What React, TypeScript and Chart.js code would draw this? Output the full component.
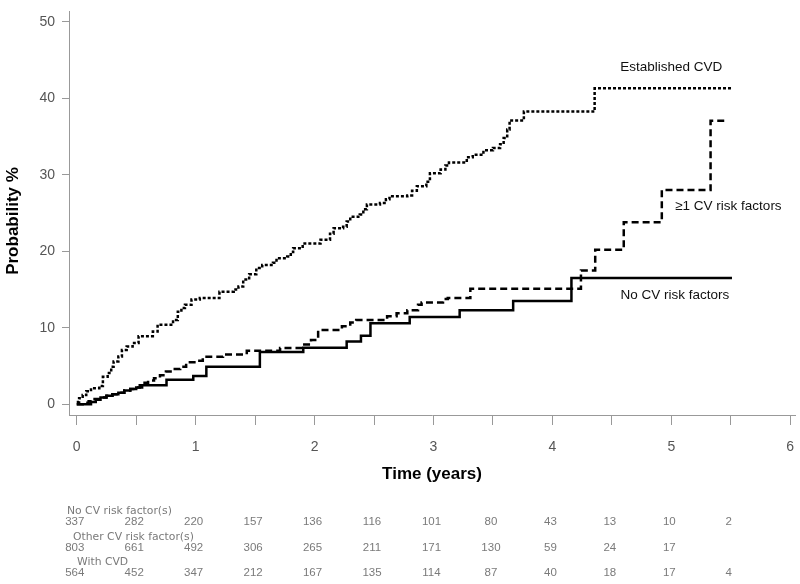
import React, { useEffect, useRef } from "react";
import { Chart, registerables } from "chart.js";

Chart.register(...registerables);

// Established CVD (dotted)
const cvdTime = [
  0, 0.02, 0.05, 0.08, 0.12, 0.19, 0.22, 0.26, 0.29, 0.31,
  0.35, 0.38, 0.42, 0.47, 0.52, 0.64, 0.68, 0.81, 0.85, 0.88,
  0.91, 0.965, 1.035, 1.2, 1.32, 1.36, 1.4, 1.45, 1.51, 1.56,
  1.65, 1.68, 1.77, 1.8, 1.82, 1.9, 2.05, 2.13, 2.16, 2.24,
  2.27, 2.3, 2.38, 2.41, 2.44, 2.55, 2.6, 2.63, 2.78, 2.82,
  2.86, 2.94, 2.97, 3.06, 3.1, 3.13, 3.28, 3.33, 3.42, 3.5,
  3.56, 3.59, 3.62, 3.64, 3.76, 4.355, 5.51,
];
const cvdProb = [
  0.3, 0.8, 1.2, 1.7, 2.1, 2.4, 3.6, 4.1, 4.9, 5.6,
  6.25, 7.1, 7.55, 8.0, 8.9, 9.5, 10.4, 11.0, 12.1, 12.6,
  13.0, 13.7, 13.9, 14.7, 15.0, 15.4, 16.3, 17.0, 17.8, 18.2,
  18.5, 19.1, 19.3, 19.9, 20.4, 21.0, 21.5, 22.3, 23.0, 23.2,
  23.9, 24.5, 24.8, 25.5, 26.1, 26.3, 26.8, 27.2, 27.3, 27.9,
  28.5, 29.1, 30.2, 30.7, 31.2, 31.6, 32.3, 32.6, 33.2, 33.5,
  34.0, 34.8, 35.9, 37.1, 38.25, 41.3, 41.3,
];

// >=1 CV risk factors (dashed)
const otherTime = [
  0, 0.05, 0.1, 0.15, 0.2, 0.25, 0.3, 0.35, 0.4, 0.45,
  0.5, 0.55, 0.6, 0.65, 0.7, 0.75, 0.8, 0.87, 0.92, 1.0,
  1.06, 1.23, 1.43, 1.71, 1.9, 1.97, 2.03, 2.23, 2.3, 2.35,
  2.61, 2.69, 2.78, 2.87, 2.9, 3.08, 3.12, 3.31, 4.24, 4.36,
  4.6, 4.92, 5.33, 5.46,
];
const otherProb = [
  0, 0.2, 0.4, 0.7, 0.9, 1.1, 1.3, 1.5, 1.8, 2.0,
  2.2, 2.8, 3.1, 3.4, 3.8, 4.3, 4.6, 4.9, 5.5, 5.7,
  6.2, 6.5, 7.0, 7.35, 7.8, 8.4, 9.7, 10.2, 10.7, 11.0,
  11.5, 11.9, 12.3, 13.0, 13.3, 13.75, 13.9, 15.1, 17.5, 20.2,
  23.8, 28.0, 37.05, 37.05,
];

// No CV risk factors (solid)
const noTime = [
  0, 0.12, 0.16, 0.2, 0.25, 0.3, 0.35, 0.4, 0.45, 0.5,
  0.53, 0.755, 0.98, 1.09, 1.54, 1.905, 2.27, 2.39, 2.47, 2.8,
  3.22, 3.67, 4.16, 5.51,
];
const noProb = [
  0, 0.3, 0.6, 0.9, 1.1, 1.3, 1.5, 1.8, 2.0, 2.2,
  2.5, 3.2, 3.7, 4.9, 6.85, 7.4, 8.2, 8.95, 10.6, 11.4,
  12.3, 13.5, 16.5, 16.5,
];

const xTickValues = [0, 0.5, 1, 1.5, 2, 2.5, 3, 3.5, 4, 4.5, 5, 5.5, 6];
const yTickValues = [0, 10, 20, 30, 40, 50];

const xTitle = "Time (years)";
const yTitle = "Probability %";
const curveLabels = ["Established CVD", "\u22651 CV risk factors", "No CV risk factors"];

const riskTimes = [0, 0.5, 1, 1.5, 2, 2.5, 3, 3.5, 4, 4.5, 5, 5.5];
const riskRowLabels = ["No CV risk factor(s)", "Other CV risk factor(s)", "With CVD"];
const riskNoCV = [337, 282, 220, 157, 136, 116, 101, 80, 43, 13, 10, 2];
const riskOther = [803, 661, 492, 306, 265, 211, 171, 130, 59, 24, 17];
const riskCVD = [564, 452, 347, 212, 167, 135, 114, 87, 40, 18, 17, 4];

const toPoints = (t: number[], p: number[]) => t.map((x, i) => ({ x, y: p[i] }));

const FONT = '"Liberation Sans", Arial, Helvetica, sans-serif';
const WIDE = '"DejaVu Sans", Verdana, sans-serif';

export default function App() {
  const ref = useRef<HTMLCanvasElement>(null);

  useEffect(() => {
    const canvas = ref.current;
    if (!canvas) return;

    const overlay = {
      id: "overlay",
      afterDraw(chart: any) {
        const { ctx, chartArea } = chart;
        const xs = chart.scales.x;
        const ys = chart.scales.y;
        ctx.save();
        // y axis title
        ctx.save();
        ctx.translate(13, (chartArea.top + chartArea.bottom) / 2 + 8);
        ctx.rotate(-Math.PI / 2);
        ctx.font = `bold 17px ${FONT}`;
        ctx.fillStyle = "#000";
        ctx.textAlign = "center";
        ctx.textBaseline = "middle";
        ctx.fillText(yTitle, 0, 0);
        ctx.restore();
        // curve labels
        ctx.font = `13.5px ${FONT}`;
        ctx.fillStyle = "#111";
        ctx.textAlign = "center";
        ctx.textBaseline = "middle";
        const anchors = [
          [5.0, 44.1],
          [5.48, 25.9],
          [5.03, 14.3],
        ];
        curveLabels.forEach((s, i) => {
          ctx.fillText(s, xs.getPixelForValue(anchors[i][0]), ys.getPixelForValue(anchors[i][1]));
        });
        // number-at-risk table
        const rows = [riskNoCV, riskOther, riskCVD];
        const labelY = [511.5, 537.5, 562.5];
        const labelX = [67, 73, 77];
        ctx.fillStyle = "#7a7a7a";
        rows.forEach((row, r) => {
          ctx.font = `10.8px ${WIDE}`;
          ctx.textAlign = "left";
          ctx.fillText(riskRowLabels[r], labelX[r], labelY[r]);
          ctx.font = `11.5px ${FONT}`;
          ctx.textAlign = "center";
          row.forEach((n, i) => {
            ctx.fillText(String(n), xs.getPixelForValue(riskTimes[i]) - 2, labelY[r] + 10.5);
          });
        });
        ctx.restore();
      },
    };

    const chart = new Chart(canvas, {
      type: "line",
      data: {
        datasets: [
          {
            data: toPoints(cvdTime, cvdProb),
            borderColor: "#000",
            borderWidth: 2.5,
            borderDash: [3, 2],
            stepped: true,
            pointRadius: 0,
            fill: false,
          },
          {
            data: toPoints(otherTime, otherProb),
            borderColor: "#000",
            borderWidth: 2.5,
            borderDash: [7, 4],
            stepped: true,
            pointRadius: 0,
            fill: false,
          },
          {
            data: toPoints(noTime, noProb),
            borderColor: "#000",
            borderWidth: 2.5,
            stepped: true,
            pointRadius: 0,
            fill: false,
          },
        ],
      },
      options: {
        animation: false,
        responsive: false,
        devicePixelRatio: 1,
        layout: { padding: { left: 0, right: 5, top: 11, bottom: 0 } },
        plugins: {
          legend: { display: false },
          tooltip: { enabled: false },
        },
        scales: {
          x: {
            type: "linear",
            min: -0.065,
            max: 6.04,
            afterBuildTicks: (s: any) => {
              s.ticks = xTickValues.map((v) => ({ value: v }));
            },
            afterFit: (s: any) => {
              s.height = 169;
              s.paddingLeft = 0;
              s.paddingRight = 0;
            },
            grid: {
              display: true,
              drawOnChartArea: false,
              drawTicks: true,
              tickLength: 10,
              color: "#999",
              lineWidth: 1,
            },
            border: { display: true, color: "#999", width: 1 },
            ticks: {
              autoSkip: false,
              maxRotation: 0,
              padding: 14,
              color: "#555",
              font: { family: FONT, size: 14 },
              callback: (v: any) => (Number.isInteger(v) ? String(v) : ""),
            },
            title: {
              display: true,
              text: xTitle,
              color: "#000",
              font: { family: FONT, size: 17, weight: "bold" },
              padding: { top: 0, bottom: 99 },
            },
          },
          y: {
            type: "linear",
            min: -1.4,
            max: 51.4,
            afterBuildTicks: (s: any) => {
              s.ticks = yTickValues.map((v) => ({ value: v }));
            },
            afterFit: (s: any) => {
              s.width = 69;
              s.paddingTop = 0;
              s.paddingBottom = 0;
            },
            grid: {
              display: true,
              drawOnChartArea: false,
              drawTicks: true,
              tickLength: 7,
              color: "#999",
              lineWidth: 1,
            },
            border: { display: true, color: "#999", width: 1 },
            ticks: {
              padding: 7,
              color: "#555",
              font: { family: FONT, size: 14 },
              callback: (v: any) => String(v),
            },
            title: { display: false },
          },
        },
      },
      plugins: [overlay],
    } as any);

    return () => chart.destroy();
  }, []);

  return (
    <div style={{ position: "absolute", left: 0, top: 0, width: 800, height: 584, background: "#fff" }}>
      <canvas ref={ref} width={800} height={584} style={{ display: "block" }} />
    </div>
  );
}
